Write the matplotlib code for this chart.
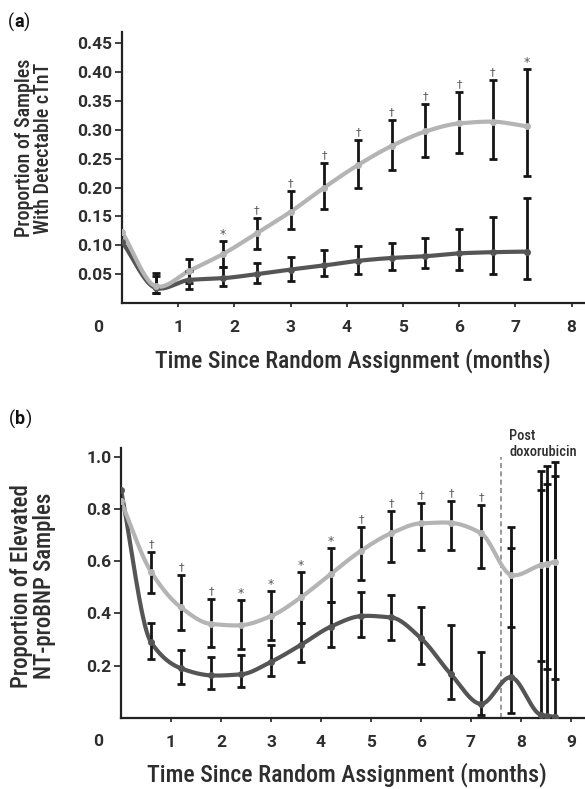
import numpy as np
import matplotlib
matplotlib.use("Agg")
import matplotlib.pyplot as plt
from matplotlib import font_manager as fm

# ---------------- data ----------------
# Panel (a): detectable cTnT
x_a = [0.0, 0.6, 1.2, 1.8, 2.4, 3.0, 3.6, 4.2, 4.8, 5.4, 6.0, 6.6, 7.2]
light_a = [0.123, 0.029, 0.056, 0.085, 0.121, 0.158, 0.200, 0.239, 0.272, 0.297, 0.311, 0.314, 0.306]
light_a_lo = [np.nan, 0.018, 0.035, 0.063, 0.093, 0.128, 0.162, 0.199, 0.230, 0.253, 0.260, 0.249, 0.220]
light_a_hi = [np.nan, 0.052, 0.076, 0.108, 0.148, 0.194, 0.242, 0.283, 0.317, 0.344, 0.366, 0.387, 0.406]
dark_a = [0.106, 0.026, 0.040, 0.043, 0.050, 0.058, 0.065, 0.073, 0.078, 0.081, 0.086, 0.088, 0.089]
dark_a_lo = [np.nan, 0.018, 0.024, 0.029, 0.034, 0.038, 0.046, 0.051, 0.057, 0.060, 0.058, 0.050, 0.041]
dark_a_hi = [np.nan, 0.047, 0.055, 0.062, 0.070, 0.080, 0.091, 0.098, 0.104, 0.112, 0.128, 0.149, 0.181]
marks_a = ["", "", "", "*", "†", "†", "†", "†", "†", "†", "†", "†", "*"]
yticks_a = [0.05, 0.10, 0.15, 0.20, 0.25, 0.30, 0.35, 0.40, 0.45]
xticks_a = [1, 2, 3, 4, 5, 6, 7, 8]

# Panel (b): elevated NT-proBNP
x_b = [0.0, 0.6, 1.2, 1.8, 2.4, 3.0, 3.6, 4.2, 4.8, 5.4, 6.0, 6.6, 7.2, 7.8, 8.4, 8.53, 8.67]
light_b = [0.829, 0.560, 0.423, 0.360, 0.355, 0.390, 0.462, 0.552, 0.640, 0.707, 0.745, 0.747, 0.707, 0.548, 0.585, 0.590, 0.598]
light_b_lo = [np.nan, 0.480, 0.335, 0.270, 0.265, 0.300, 0.363, 0.445, 0.530, 0.598, 0.643, 0.643, 0.573, 0.350, 0.220, 0.186, 0.148]
light_b_hi = [np.nan, 0.637, 0.548, 0.455, 0.450, 0.485, 0.560, 0.650, 0.732, 0.793, 0.824, 0.832, 0.815, 0.732, 0.946, 0.964, 0.981]
dark_b = [0.873, 0.290, 0.190, 0.163, 0.167, 0.215, 0.280, 0.350, 0.390, 0.385, 0.305, 0.167, 0.054, 0.156, 0.012, 0.008, 0.005]
dark_b_lo = [np.nan, 0.225, 0.130, 0.112, 0.120, 0.160, 0.216, 0.270, 0.310, 0.300, 0.205, 0.072, 0.010, 0.020, 0.0, 0.0, 0.0]
dark_b_hi = [np.nan, 0.365, 0.260, 0.232, 0.240, 0.280, 0.365, 0.445, 0.483, 0.470, 0.426, 0.356, 0.254, 0.650, 0.873, 0.896, 0.926]
marks_b = ["", "†", "†", "†", "*", "*", "*", "*", "†", "†", "†", "†", "†", "", "", "", ""]
yticks_b = [0.2, 0.4, 0.6, 0.8, 1.0]
xticks_b = [1, 2, 3, 4, 5, 6, 7, 8, 9]
post_dox_x = 7.6

# ---------------- fonts ----------------
names = {f.name for f in fm.fontManager.ttflist}
LABEL_FONT = "Roboto"
for cand in ["Roboto Condensed", "Liberation Sans Narrow"]:
    if cand in names:
        LABEL_FONT = cand
        break
TICK_FONT = "Roboto"

LIGHT = "#b4b4b4"
DARK = "#555555"
BAR = "#151515"
TXT = "#2e2e2e"

W, H = 585, 789
fig = plt.figure(figsize=(W / 100, H / 100), dpi=100)


def smooth(xv, yv):
    """Piecewise cubic Hermite curve through the points (display only)."""
    xv = np.asarray(xv, float)
    yv = np.asarray(yv, float)
    h = np.diff(xv)
    d = np.diff(yv) / h
    m = np.zeros_like(yv)
    for k in range(1, len(xv) - 1):
        if d[k - 1] * d[k] > 0:
            w1 = 2 * h[k] + h[k - 1]
            w2 = h[k] + 2 * h[k - 1]
            m[k] = (w1 + w2) / (w1 / d[k - 1] + w2 / d[k])
        else:
            m[k] = 0.5 * (yv[k + 1] - yv[k - 1]) / (xv[k + 1] - xv[k - 1])
    m[0] = d[0]
    m[-1] = d[-1]
    xs, ys = [], []
    for i in range(len(xv) - 1):
        t = np.linspace(0, 1, 40, endpoint=(i == len(xv) - 2))
        h00 = 2 * t**3 - 3 * t**2 + 1
        h10 = t**3 - 2 * t**2 + t
        h01 = -2 * t**3 + 3 * t**2
        h11 = t**3 - t**2
        xs.append(xv[i] + t * h[i])
        ys.append(h00 * yv[i] + h10 * h[i] * m[i] + h01 * yv[i + 1] + h11 * h[i] * m[i + 1])
    return np.concatenate(xs), np.concatenate(ys)


def px_axes(left, top, right, bottom):
    return [left / W, 1 - bottom / H, (right - left) / W, (bottom - top) / H]


def draw_panel(ax, x, light, llo, lhi, dark, dlo, dhi, marks):
    x = np.asarray(x)
    for yv, c in ((dark, DARK), (light, LIGHT)):
        sx, sy = smooth(x, yv)
        ax.plot(sx, sy, color=c, lw=3.0, zorder=2, solid_capstyle="round")
    for yv, lo, hi in ((dark, dlo, dhi), (light, llo, lhi)):
        yv = np.asarray(yv); lo = np.asarray(lo); hi = np.asarray(hi)
        ok = ~np.isnan(lo)
        ax.errorbar(x[ok], yv[ok], yerr=[yv[ok] - lo[ok], hi[ok] - yv[ok]],
                    fmt="none", ecolor=BAR, elinewidth=2.0, capsize=2.8,
                    capthick=2.0, zorder=3)
    ax.plot(x, dark, "o", ms=4, color=DARK, zorder=4)
    ax.plot(x, light, "o", ms=4, color=LIGHT, zorder=4)
    for xi, hi, mk in zip(x, lhi, marks):
        if mk:
            ax.annotate(mk, (xi, hi), xytext=(0, 2 if mk == "†" else 0),
                        textcoords="offset points", ha="center", va="bottom",
                        fontsize=8 if mk == "†" else 9, color="#555555",
                        family="DejaVu Sans", zorder=5)


def style(ax, xt, yt, yfmt):
    for s in ("top", "right"):
        ax.spines[s].set_visible(False)
    for s in ("left", "bottom"):
        ax.spines[s].set_linewidth(1.6)
        ax.spines[s].set_color("#222222")
    ax.set_xticks(xt)
    ax.set_xticklabels([str(v) for v in xt])
    ax.set_yticks(yt)
    ax.set_yticklabels([yfmt.format(v) for v in yt])
    ax.tick_params(axis="x", direction="out", length=3, width=1.3,
                   color="#333333", pad=9)
    ax.tick_params(axis="y", direction="out", length=5, width=1.3,
                   color="#333333", pad=2)
    for lab in ax.get_xticklabels() + ax.get_yticklabels():
        lab.set_fontfamily(TICK_FONT)
        lab.set_fontweight("bold")
        lab.set_fontsize(12.5)
        lab.set_color(TXT)


# ---- panel a ----
axA = fig.add_axes(px_axes(122, 32, 585, 303))
draw_panel(axA, x_a, light_a, light_a_lo, light_a_hi, dark_a, dark_a_lo, dark_a_hi, marks_a)
axA.set_xlim(0, 463 / 56.2)
axA.set_ylim(0, 271 / 577.5)
style(axA, xticks_a, yticks_a, "{:.2f}")

# ---- panel b ----
axB = fig.add_axes(px_axes(121, 448, 585, 718))
draw_panel(axB, x_b, light_b, light_b_lo, light_b_hi, dark_b, dark_b_lo, dark_b_hi, marks_b)
axB.axvline(post_dox_x, ymin=0, ymax=1.0 / 1.033, color="#888888", lw=1.2,
            ls=(0, (3, 2)), zorder=1)
axB.set_xlim(0, 464 / 50.0)
axB.set_ylim(0, 270 / 261.3)
style(axB, xticks_b, yticks_b, "{:.1f}")


def ftext(xp, yp, s, **kw):
    return fig.text(xp / W, 1 - yp / H, s, **kw)


# origin "0" labels
for yp in (328, 742):
    ftext(98, yp, "0", ha="center", va="center", family=TICK_FONT,
          fontweight="bold", fontsize=12.5, color=TXT)

# axis titles
xl_a = ftext(353, 361, "Time Since Random Assignment (months)", ha="center",
             va="center", family=LABEL_FONT, fontweight="medium", fontsize=16, color=TXT)
xl_b = ftext(347, 775, "Time Since Random Assignment (months)", ha="center",
             va="center", family=LABEL_FONT, fontweight="medium", fontsize=16, color=TXT)
yl_a = ftext(34, 148, "Proportion of Samples\nWith Detectable cTnT", ha="center",
             va="center", rotation=90, family=LABEL_FONT, fontweight="medium",
             fontsize=14, color=TXT, linespacing=1.05)
yl_b = ftext(33, 586, "Proportion of Elevated\nNT-proBNP Samples", ha="center",
             va="center", rotation=90, family=LABEL_FONT, fontweight="medium",
             fontsize=14, color=TXT, linespacing=1.05)

ftext(8, 22, "(", ha="left", va="center", fontsize=13, family="Roboto", color="#111111")
ftext(14, 22, "a", ha="left", va="center", fontsize=13, family="Roboto",
      fontweight="bold", color="#111111")
ftext(24, 22, ")", ha="left", va="center", fontsize=13, family="Roboto", color="#111111")
ftext(9, 419, "(", ha="left", va="center", fontsize=13, family="Roboto", color="#111111")
ftext(15, 419, "b", ha="left", va="center", fontsize=13, family="Roboto",
      fontweight="bold", color="#111111")
ftext(26, 419, ")", ha="left", va="center", fontsize=13, family="Roboto", color="#111111")

pd = ftext(509, 444, "Post\ndoxorubicin", ha="left", va="center", fontsize=10.5,
           family=LABEL_FONT, fontweight="medium", color=TXT, linespacing=1.1)

# fit widths of labels to the reference
fig.canvas.draw()
r = fig.canvas.get_renderer()
for t, target, rot in ((xl_a, 397, False), (xl_b, 400, False),
                       (yl_a, 180, True), (yl_b, 205, True), (pd, 68, False)):
    bb = t.get_window_extent(r)
    cur = bb.height if rot else bb.width
    t.set_fontsize(t.get_fontsize() * target / cur)

fig.savefig("out.png", dpi=100)
